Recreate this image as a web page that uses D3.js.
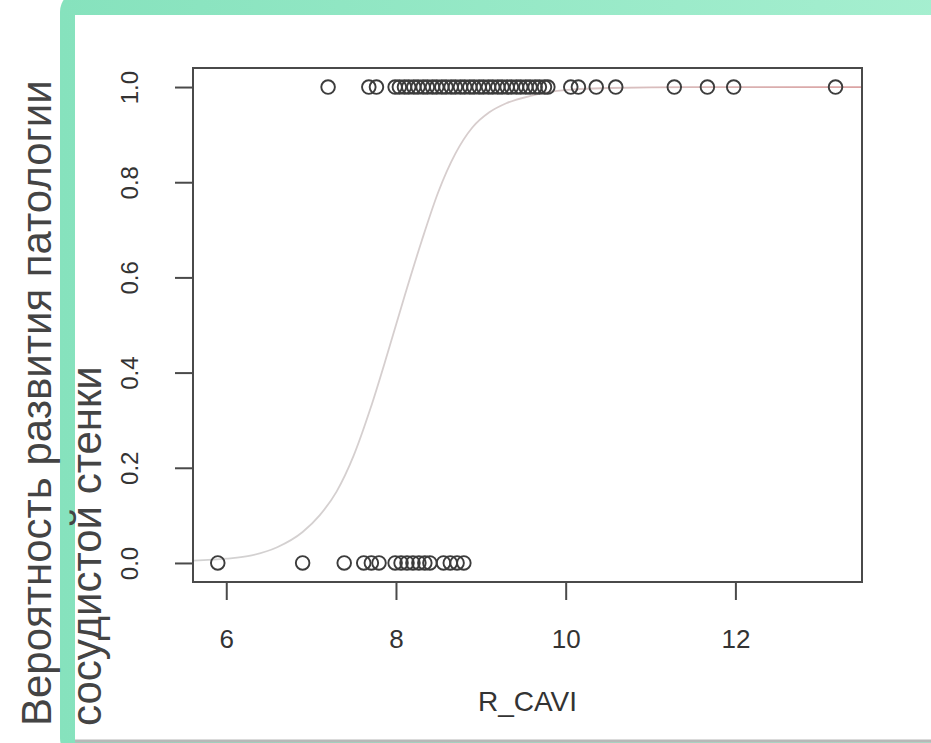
<!DOCTYPE html>
<html><head><meta charset="utf-8">
<script src="https://cdn.jsdelivr.net/npm/d3@7"></script>
<style>html,body{margin:0;padding:0;background:#fff;}svg{display:block;}</style>
</head><body>
<script>
// ---- data ----
const xAtOne = [7.2, 7.68, 7.77, 7.99, 8.04, 8.10, 8.15, 8.21, 8.26, 8.32, 8.37, 8.43, 8.48, 8.54, 8.59, 8.65, 8.70, 8.76, 8.81, 8.87, 8.92, 8.98, 9.03, 9.09, 9.14, 9.20, 9.25, 9.31, 9.36, 9.42, 9.47, 9.53, 9.58, 9.64, 9.69, 9.75, 9.79, 10.06, 10.15, 10.36, 10.59, 11.28, 11.67, 11.98, 13.18];
const xAtZero = [5.9, 6.9, 7.39, 7.62, 7.71, 7.8, 7.99, 8.06, 8.13, 8.2, 8.27, 8.34, 8.4, 8.56, 8.64, 8.72, 8.8];
const curveX = [5.61, 6.0, 6.3, 6.6, 6.9, 7.1, 7.3, 7.5, 7.7, 7.9, 8.1, 8.3, 8.5, 8.7, 8.9, 9.1, 9.3, 9.6, 9.9, 10.5, 11.5, 12.5, 13.49];
const curveY = [0.005, 0.009, 0.016, 0.033, 0.065, 0.10, 0.15, 0.225, 0.325, 0.44, 0.56, 0.675, 0.78, 0.86, 0.915, 0.947, 0.966, 0.982, 0.992, 0.998, 1.0, 1.0, 1.0];
const xTicks = [6, 8, 10, 12];
const yTicks = [0.0, 0.2, 0.4, 0.6, 0.8, 1.0];
const xTitle = "R_CAVI";
const yTitleLines = ["Вероятность развития патологии", "сосудистой стенки"];

const W = 931, H = 743;
const box = {left: 193, right: 862, top: 68, bottom: 582};
const svg = d3.select("body").append("svg").attr("width", W).attr("height", H);
const font = "'Liberation Sans', Arial, sans-serif";

// background frame (green rounded panel)
const defs = svg.append("defs");
const g1 = defs.append("linearGradient").attr("id","frame").attr("x1","0").attr("y1","0").attr("x2","1").attr("y2","0");
g1.append("stop").attr("offset","0").attr("stop-color","#86e2bd");
g1.append("stop").attr("offset","1").attr("stop-color","#a6efd0");
svg.append("rect").attr("x",60).attr("y",-10).attr("width",900).attr("height",770).attr("rx",22).attr("fill","url(#frame)");
svg.append("rect").attr("x",75).attr("y",15).attr("width",870).attr("height",725).attr("fill","#ffffff");
svg.append("line").attr("x1",75).attr("x2",W).attr("y1",741).attr("y2",741).attr("stroke","#b8b8b8").attr("stroke-width",3);

const x = d3.scaleLinear().domain([5.9 - 0.04*7.3, 13.2 + 0.04*7.3]).range([box.left, box.right]);
const y = d3.scaleLinear().domain([-0.04, 1.04]).range([box.bottom, box.top]);

const ink = "#3c3c3c";

// curve
const cg = defs.append("linearGradient").attr("id","curveGrad").attr("gradientUnits","userSpaceOnUse")
  .attr("x1", x(5.61)).attr("x2", x(13.49)).attr("y1",0).attr("y2",0);
cg.append("stop").attr("offset","0").attr("stop-color","#d2d2d2");
cg.append("stop").attr("offset","0.5").attr("stop-color","#d8cccc");
cg.append("stop").attr("offset","1").attr("stop-color","#dba3a3");
const line = d3.line().x(d => x(d[0])).y(d => y(d[1])).curve(d3.curveMonotoneX);
svg.append("path").datum(curveX.map((v,i)=>[v, curveY[i]]))
  .attr("d", line).attr("fill","none").attr("stroke","url(#curveGrad)").attr("stroke-width",1.8);

// points
const pts = svg.append("g").attr("fill","none").attr("stroke", ink).attr("stroke-width",1.9);
pts.selectAll("circle.one").data(xAtOne).join("circle").attr("class","one")
  .attr("cx", d => x(d)).attr("cy", y(1)).attr("r", 6.8);
pts.selectAll("circle.zero").data(xAtZero).join("circle").attr("class","zero")
  .attr("cx", d => x(d)).attr("cy", y(0)).attr("r", 6.8);

// box
svg.append("rect").attr("x", box.left).attr("y", box.top)
  .attr("width", box.right-box.left).attr("height", box.bottom-box.top)
  .attr("fill","none").attr("stroke","#4a4a4a").attr("stroke-width",2);

// x axis
const xAxis = svg.append("g").attr("transform", `translate(0,${box.bottom})`)
  .call(d3.axisBottom(x).tickValues(xTicks).tickSize(18).tickPadding(30).tickFormat(d3.format("d")));
xAxis.select(".domain").attr("stroke","#4a4a4a").attr("stroke-width",2).attr("d", `M${x(6)},0H${x(12)}`);
xAxis.selectAll(".tick line").attr("stroke","#4a4a4a").attr("stroke-width",2);
xAxis.selectAll(".tick text").attr("fill","#333").style("font-family",font).style("font-size","26px");

// y axis
const yAxis = svg.append("g").attr("transform", `translate(${box.left},0)`)
  .call(d3.axisLeft(y).tickValues(yTicks).tickSize(18).tickFormat(d3.format(".1f")));
yAxis.select(".domain").attr("stroke","#4a4a4a").attr("stroke-width",2).attr("d", `M0,${y(0)}V${y(1)}`);
yAxis.selectAll(".tick line").attr("stroke","#4a4a4a").attr("stroke-width",2);
yAxis.selectAll(".tick text").attr("fill","#333")
  .style("font-family",font).style("font-size","24px")
  .attr("x", null).attr("dy", null)
  .attr("text-anchor","middle")
  .attr("transform","translate(-63,0) rotate(-90)")
  .attr("dy","0.35em");

// x title
svg.append("text").attr("x", (box.left+box.right)/2).attr("y", 711)
  .attr("text-anchor","middle").attr("fill","#333")
  .style("font-family",font).style("font-size","28px")
  .text(xTitle);

// y title (two lines, rotated)
const yt = svg.append("g").attr("fill","#444").style("font-family",font);
yt.append("text").attr("transform","translate(51,726) rotate(-90)").style("font-size","42px").text(yTitleLines[0]);
yt.append("text").attr("transform","translate(101,726) rotate(-90)").style("font-size","42px").text(yTitleLines[1]);
</script>
</body></html>
